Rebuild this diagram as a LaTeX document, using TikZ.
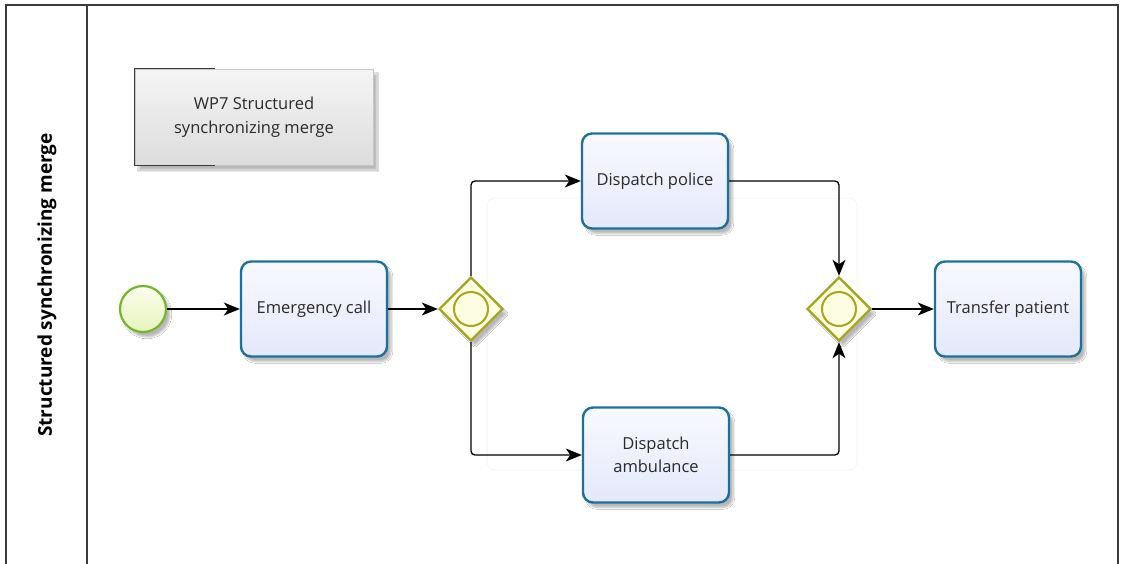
\documentclass[tikz,border=0pt]{standalone}
\usepackage{fontspec}
\setsansfont{Open Sans}
\usetikzlibrary{arrows.meta,shapes.geometric,shadows.blur}

\definecolor{poolline}{HTML}{3A3A3A}
\definecolor{taskline}{HTML}{1F6F9E}
\definecolor{tasktop}{HTML}{F8F9FF}
\definecolor{taskbot}{HTML}{E4E8FA}
\definecolor{gwline}{HTML}{A6A520}
\definecolor{gwfill}{HTML}{FDFDE2}
\definecolor{startline}{HTML}{74B52A}
\definecolor{starttop}{HTML}{FBFDEB}
\definecolor{startbot}{HTML}{E6F4BE}
\definecolor{notetop}{HTML}{F5F5F5}
\definecolor{notebot}{HTML}{DCDCDC}
\definecolor{txt}{HTML}{2A2A2A}

\tikzset{
  softshadow/.style={blur shadow={shadow xshift=4pt,shadow yshift=-5pt,shadow blur steps=8,shadow opacity=28}},
  task/.style={draw=taskline,line width=2.4pt,rounded corners=10pt,
    top color=tasktop,bottom color=taskbot,minimum width=146pt,minimum height=95pt,
    align=center,font=\sffamily\fontsize{16.5}{23}\selectfont,text=txt,softshadow},
  gateway/.style={diamond,draw=gwline,line width=2.4pt,fill=gwfill,
    minimum width=64pt,minimum height=64pt,inner sep=0pt,softshadow},
  gwmark/.style={circle,draw=gwline,line width=2pt,fill=gwfill,minimum size=34pt,inner sep=0pt},
  startev/.style={circle,draw=startline,line width=2.2pt,top color=starttop,bottom color=startbot,
    minimum size=46pt,inner sep=0pt,softshadow},
  flow/.style={draw=black,line width=1.3pt,rounded corners=4pt,
    -{Stealth[length=16pt,width=13pt,inset=4.5pt]}},
  note/.style={draw=gray!45,line width=0.8pt,top color=notetop,bottom color=notebot,
    minimum width=238pt,minimum height=96pt,align=center,
    font=\sffamily\fontsize{16.5}{24}\selectfont,text=txt,softshadow},
}

\begin{document}
\begin{tikzpicture}[x=1pt,y=-1pt]
\useasboundingbox (0,0) rectangle (1122,563);
\fill[white] (0,0) rectangle (1122,563);

% pool and its lane header
\draw[poolline,line width=1.5pt] (6,565) -- (6,5) -- (1118,5) -- (1118,565);
\draw[poolline,line width=1.5pt] (87,5) -- (87,565);
\node[rotate=90,font=\sffamily\bfseries\fontsize{19}{22}\selectfont,text=black] (lane) at (47,285) {Structured synchronizing merge};

% text annotation
\node[note] (wp) at (254,117) {WP7 Structured\\synchronizing merge};
\draw[poolline,line width=1.2pt] ([xshift=80pt]wp.north west) -- (wp.north west) -- (wp.south west) -- ([xshift=80pt]wp.south west);

% faint group frame behind the parallel branches
\draw[gray!8,line width=1pt,rounded corners=8pt] (487,198) rectangle (857,470);

% flow objects
\node[startev] (start) at (143,309) {};
\node[task] (call) at (314,309) {Emergency call};
\node[gateway] (split) at (471,309) {};
\node[gwmark] at (split) {};
\node[task] (police) at (655,181) {Dispatch police};
\node[task] (amb) at (656,455) {Dispatch\\ambulance};
\node[gateway] (merge) at (839,309) {};
\node[gwmark] at (merge) {};
\node[task] (transfer) at (1008,309) {Transfer patient};

% sequence flows
\draw[flow] (start) -- (call);
\draw[flow] (call) -- (split.west);
\draw[flow] (split.north) |- (police.west);
\draw[flow] (split.south) |- (amb.west);
\draw[flow] (police.east) -| (merge.north);
\draw[flow] (amb.east) -| (merge.south);
\draw[flow] (merge.east) -- (transfer.west);
\end{tikzpicture}
\end{document}
